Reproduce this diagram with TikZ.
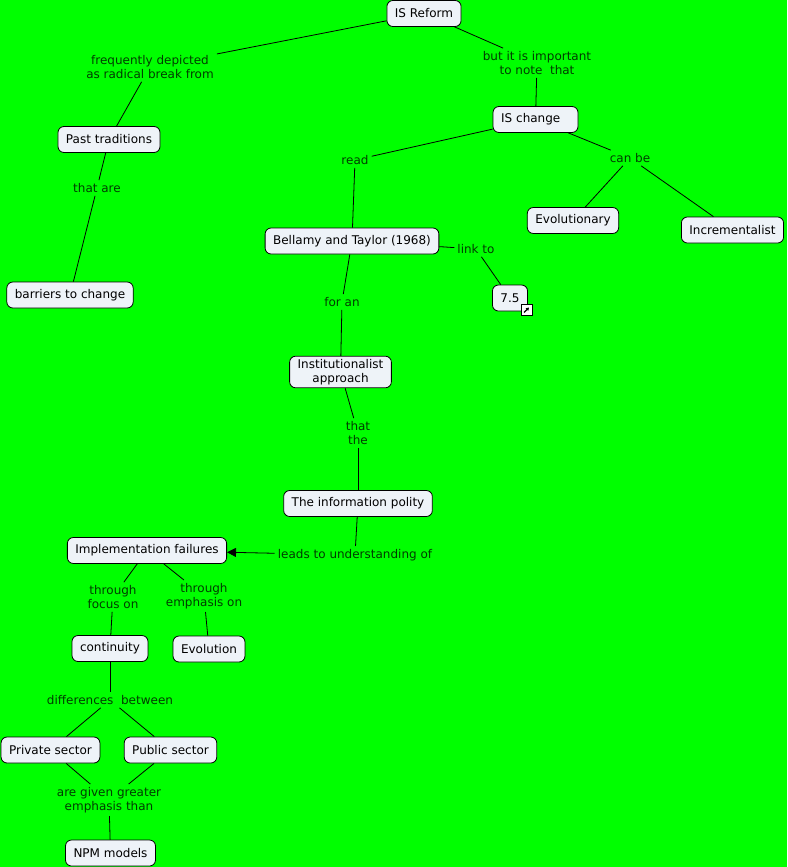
\documentclass[tikz,border=0pt]{standalone}
\usepackage{fontspec}
\setmainfont{DejaVu Sans}
\usetikzlibrary{arrows.meta}
\definecolor{bg}{RGB}{0,255,0}
\definecolor{nodefill}{RGB}{238,243,248}
\definecolor{lbltext}{RGB}{0,60,0}
\tikzset{
  concept/.style={draw=black, line width=0.8pt, fill=nodefill, rounded corners=6pt,
    minimum height=26pt, inner xsep=8pt, inner ysep=3pt, align=center,
    font=\fontsize{12}{14}\selectfont, text=black},
  lbl/.style={text=lbltext, align=center, inner sep=3pt, font=\fontsize{12}{14}\selectfont},
  link/.style={draw=black, line width=0.8pt},
}
\begin{document}
\begin{tikzpicture}[x=1pt,y=-1pt]
\fill[bg] (0,0) rectangle (787,867);
\useasboundingbox (0,0) rectangle (787,867);

% concepts
\node[concept] (isreform) at (424,13.5) {IS Reform};
\node[concept, minimum width=85pt, text width=69pt, align=left] (ischange) at (535.5,119.5) {IS change};
\node[concept] (past) at (109,139.5) {Past traditions};
\node[concept] (barriers) at (70,295) {barriers to change};
\node[concept] (bellamy) at (352,241) {Bellamy and Taylor (1968)};
\node[concept] (evolutionary) at (573,220.5) {Evolutionary};
\node[concept] (increment) at (732.5,230) {Incrementalist};
\node[concept] (sevenfive) at (510,298) {7.5};
\node[concept] (inst) at (340.5,372) {Institutionalist\\approach};
\node[concept] (polity) at (358,503.5) {The information polity};
\node[concept] (impl) at (147,550.5) {Implementation failures};
\node[concept] (continuity) at (110,648.5) {continuity};
\node[concept] (evolution) at (209,649) {Evolution};
\node[concept] (private) at (50.5,750) {Private sector};
\node[concept] (public) at (170.5,750) {Public sector};
\node[concept] (npm) at (110.5,853) {NPM models};

% link icon on 7.5
\node[draw=black, fill=white, line width=0.6pt, minimum size=11pt, inner sep=0pt] (icon) at (526.5,310) {};
\draw[line width=1.2pt, -{Triangle[length=3pt,width=3.5pt]}] ([shift={(-2.5,2.5)}]icon.center) -- ([shift={(2.5,-2.5)}]icon.center);

% linking phrases
\node[lbl] (l1) at (150,67) {frequently depicted\\as radical break from};
\node[lbl] (l2) at (537,63) {but it is important\\to note\ \ that};
\node[lbl] (l3) at (355,160) {read};
\node[lbl] (l4) at (630,158) {can be};
\node[lbl] (l5) at (97,188) {that are};
\node[lbl] (l6) at (476,249) {link to};
\node[lbl] (l7) at (342,302) {for an};
\node[lbl] (l8) at (358,433) {that\\the};
\node[lbl] (l9) at (355,555) {leads to understanding of};
\node[lbl] (l10) at (113,597) {through\\focus on};
\node[lbl] (l11) at (204,596) {through\\emphasis on};
\node[lbl] (l12) at (110,700) {differences\ \ between};
\node[lbl] (l13) at (109,800) {are given greater\\emphasis than};

% connectors
\draw[link] (isreform) -- (l1);
\draw[link] (l1) -- (past);
\draw[link] (isreform) -- (l2);
\draw[link] (l2) -- (ischange);
\draw[link] (ischange) -- (l3);
\draw[link] (l3) -- (bellamy);
\draw[link] (ischange) -- (l4);
\draw[link] (l4) -- (evolutionary);
\draw[link] (l4) -- (increment);
\draw[link] (past) -- (l5);
\draw[link] (l5) -- (barriers);
\draw[link] (bellamy) -- (l6);
\draw[link] (l6) -- (sevenfive);
\draw[link] (bellamy) -- (l7);
\draw[link] (l7) -- (inst);
\draw[link] (inst) -- (l8);
\draw[link] (l8) -- (polity);
\draw[link] (polity) -- (l9);
\draw[link, -{Triangle[length=9pt,width=9pt]}] (l9) -- (impl);
\draw[link] (impl) -- (l10);
\draw[link] (l10) -- (continuity);
\draw[link] (impl) -- (l11);
\draw[link] (l11) -- (evolution);
\draw[link] (continuity) -- (l12);
\draw[link] (l12) -- (private);
\draw[link] (l12) -- (public);
\draw[link] (private) -- (l13);
\draw[link] (public) -- (l13);
\draw[link] (l13) -- (npm);
\end{tikzpicture}
\end{document}
